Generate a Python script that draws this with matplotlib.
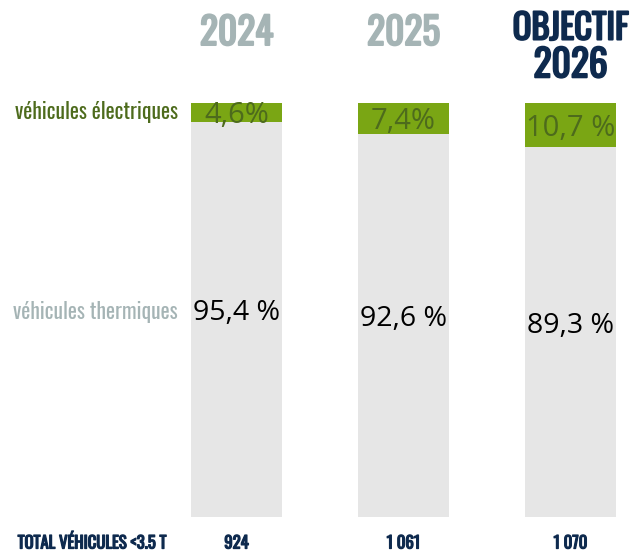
import matplotlib
matplotlib.use("Agg")
import matplotlib.pyplot as plt
import matplotlib.patheffects as pe

# data
years = ["2024", "2025", "2026"]
headers = ["2024", "2025", "2026"]
electric = [4.6, 7.4, 10.7]
thermal = [95.4, 92.6, 89.3]
elec_labels = ["4,6%", "7,4%", "10,7 %"]
therm_labels = ["95,4 %", "92,6 %", "89,3 %"]
totals = ["924", "1 061", "1 070"]

GREEN = "#7aa614"
DARK_GREEN = "#4d6b1c"
GREY_BAR = "#e6e6e6"
GREY_TXT = "#a5b4b5"
NAVY = "#0e2a4e"
narrow = ["Oswald", "DejaVu Sans"]
body = ["Open Sans", "DejaVu Sans"]


def bold(color, lw=1.4):
    # Oswald only ships one weight here, so fake the bold with a stroke
    return [pe.withStroke(linewidth=lw, foreground=color)]


fig = plt.figure(figsize=(6.4, 5.51), dpi=100)
ax = fig.add_axes([0, 0, 1, 1])
ax.set_xlim(-1.416, 2.416)
ax.set_ylim(-8.2, 124.9)
ax.axis("off")

x = range(len(years))
ax.bar(x, thermal, width=0.545, color=GREY_BAR)
ax.bar(x, electric, bottom=thermal, width=0.545, color=GREEN)

for i in x:
    ax.text(i, thermal[i] + electric[i] / 2 - 0.7, elec_labels[i], ha="center", va="center",
            fontsize=21, color=DARK_GREEN, family=body)
    ax.text(i, thermal[i] / 2 + 1.5, therm_labels[i], ha="center", va="center",
            fontsize=20.5, color="black", family=body)
    ax.text(i, -7.6, totals[i], ha="center", va="baseline", fontsize=12,
            color=NAVY, family=narrow, path_effects=bold(NAVY, 0.9))

# year headers
for i in x:
    col = NAVY if i == 2 else GREY_TXT
    y = 109.0 if i == 2 else 116.8
    ax.text(i, y, headers[i], ha="center", va="center", fontsize=27,
            color=col, family=narrow, path_effects=bold(col))
ax.text(2, 118.0, "OBJECTIF", ha="center", va="center", fontsize=25,
        color=NAVY, family=narrow, path_effects=bold(NAVY))

# row labels
ax.text(-0.35, 97.8, "véhicules électriques", ha="right", va="center",
        fontsize=15.5, color=DARK_GREEN, family=narrow)
ax.text(-0.35, 49.5, "véhicules thermiques", ha="right", va="center",
        fontsize=15.5, color=GREY_TXT, family=narrow)
ax.text(-1.31, -7.6, "TOTAL VÉHICULES <3.5 T", ha="left", va="baseline",
        fontsize=12, color=NAVY, family=narrow, path_effects=bold(NAVY, 0.9))

fig.savefig("out.png", dpi=100)
